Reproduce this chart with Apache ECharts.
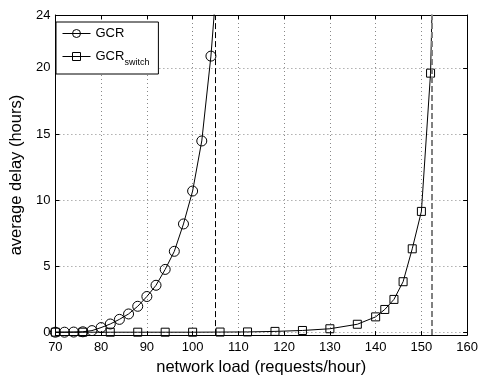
<!DOCTYPE html>
<html><head><meta charset="utf-8">
<script src="https://cdn.jsdelivr.net/npm/echarts@6/dist/echarts.min.js"></script>
<style>html,body{margin:0;padding:0;background:#fff}#c{width:481px;height:381px}</style>
</head><body><div id="c"></div>
<script>
const gcrLoad = [70,72,74,76,78,80,82,84,86,88,90,92,94,96,98,100,102,104,106];
const gcrDelay = [0.0,0.0,0.01,0.03,0.12,0.35,0.62,0.97,1.38,1.96,2.70,3.55,4.75,6.12,8.19,10.68,14.47,20.89,29.8];
const switchLoad = [70,76,82,88,94,100,106,112,118,124,130,136,140,142,144,146,148,150,152,154];
const switchDelay = [0,0,0,0,0,0,0.01,0.02,0.06,0.13,0.26,0.60,1.16,1.72,2.48,3.82,6.31,9.14,19.6,49];
const yTickValues = [0,5,10,15,20,24];
const asymptotes = [105, 152.2];
const xMin = 70, xMax = 160, xStep = 10;
const yMin = -0.22, yMax = 24;

const FONT = '"Liberation Sans", Arial, Helvetica, sans-serif';
const chart = echarts.init(document.getElementById('c'), null, {renderer:'canvas'});
const pairs = (xs, ys) => xs.map((x,i)=>[x, ys[i]]);
const frameLine = {show:true, onZero:false, lineStyle:{color:'#000', width:1}};
const tickIn = {show:true, inside:true, length:4, lineStyle:{color:'#000', width:1}};
const dotted = {show:true, lineStyle:{color:'#888', width:1, type:[1,3]}};

chart.setOption({
  animation:false,
  backgroundColor:'#fff',
  grid:{left:50, right:9, top:15, bottom:35.5, containLabel:false},
  xAxis:[
    {type:'value', position:'bottom', min:xMin, max:xMax, interval:xStep,
     axisLine:frameLine, axisTick:tickIn,
     axisLabel:{margin:6, fontSize:13, color:'#000', fontFamily:FONT},
     splitLine:dotted,
     name:'network load (requests/hour)', nameLocation:'middle', nameGap:15,
     nameTextStyle:{fontSize:16.5, color:'#000', fontFamily:FONT}},
    {type:'value', position:'top', min:xMin, max:xMax, interval:xStep,
     axisLine:frameLine, axisTick:tickIn, axisLabel:{show:false}, splitLine:{show:false}}
  ],
  yAxis:[
    {type:'value', position:'left', min:yMin, max:yMax,
     axisLine:frameLine,
     axisTick:Object.assign({customValues:yTickValues}, tickIn),
     axisLabel:{customValues:yTickValues, margin:5, fontSize:13, color:'#000', fontFamily:FONT},
     splitLine:dotted,
     name:'average delay (hours)', nameLocation:'middle', nameGap:24,
     nameTextStyle:{fontSize:16.5, color:'#000', fontFamily:FONT}},
    {type:'value', position:'right', min:yMin, max:yMax,
     axisLine:frameLine,
     axisTick:Object.assign({customValues:yTickValues}, tickIn),
     axisLabel:{show:false}, splitLine:{show:false}}
  ],
  legend:{
    data:['GCR','GCR_switch'], orient:'vertical', left:56, top:22,
    itemWidth:28, itemHeight:10, itemGap:10, padding:[5,9,5,6],
    borderColor:'#000', borderWidth:1, backgroundColor:'#fff', borderRadius:0,
    lineStyle:{width:1, color:'#000'},
    itemStyle:{color:'rgba(255,255,255,0)', borderColor:'#000', borderWidth:1},
    textStyle:{fontFamily:FONT, fontSize:13, color:'#000',
      rich:{
        g:{fontFamily:FONT, fontSize:13, color:'#000', lineHeight:15},
        a:{fontFamily:FONT, fontSize:13, color:'#000', lineHeight:13, padding:[0,0,6,0], verticalAlign:'top'},
        b:{fontFamily:FONT, fontSize:9, color:'#000', lineHeight:9, padding:[8,0,0,0], verticalAlign:'top'}
      }},
    formatter: n => n === 'GCR' ? '{g|GCR}' : '{a|GCR}{b|switch}'
  },
  series:[
    {type:'line', name:'GCR', xAxisIndex:0, yAxisIndex:0, data:pairs(gcrLoad, gcrDelay),
     symbol:'circle', symbolSize:10, showAllSymbol:true, clip:true,
     itemStyle:{color:'rgba(255,255,255,0)', borderColor:'#000', borderWidth:1},
     lineStyle:{color:'#000', width:1},
     markLine:{silent:true, symbol:['none','none'], label:{show:false},
       data: asymptotes.map((v,i)=>({xAxis:v,
         lineStyle: i===0 ? {color:'#000', width:1, type:[6,3]} : {color:'#808080', width:2, type:[6,3]}}))}
    },
    {type:'line', name:'GCR_switch', xAxisIndex:0, yAxisIndex:0, data:pairs(switchLoad, switchDelay),
     symbol:'rect', symbolSize:8, showAllSymbol:true, clip:true,
     itemStyle:{color:'rgba(255,255,255,0)', borderColor:'#000', borderWidth:1},
     lineStyle:{color:'#000', width:1}}
  ]
});
</script></body></html>
